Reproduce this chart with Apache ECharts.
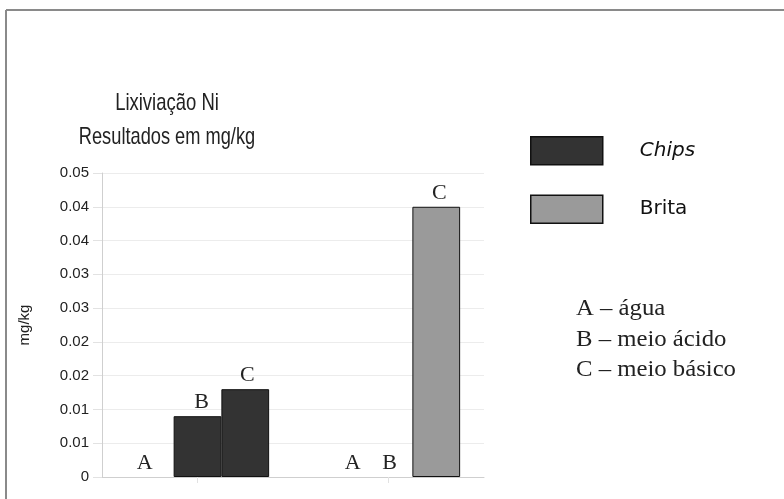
<!DOCTYPE html>
<html>
<head>
<meta charset="utf-8">
<script src="https://cdn.jsdelivr.net/npm/echarts@6/dist/echarts.min.js"></script>
<style>html,body{margin:0;padding:0;background:#fff;}#c{width:784px;height:499px;}</style>
</head>
<body>
<div id="c"></div>
<script>
// ---- data ----
var categories = ['Chips', 'Brita'];
var seriesNames = ['A', 'B', 'C'];
var valuesA = [0, 0];
var valuesB = [0.009, 0];
var valuesC = [0.013, 0.040];
var yTickLabels = ['0', '0.01', '0.01', '0.02', '0.02', '0.03', '0.03', '0.04', '0.04', '0.05'];
var legendNames = ['Chips', 'Brita'];
var notes = ['A – água', 'B – meio ácido', 'C – meio básico'];
var titleLines = ['Lixiviação Ni', 'Resultados em mg/kg'];
var yName = 'mg/kg';

var catColors = {'Chips': '#333333', 'Brita': '#9a9a9a'};
var labelOffsets = {'A': [[-5, 0], [12, 0]], 'B': [[4, 0], [1, 0]], 'C': [[2, 0], [3, 0]]};
var allValues = [valuesA, valuesB, valuesC];

var chart = echarts.init(document.getElementById('c'), null, {renderer: 'canvas'});

var barSeries = seriesNames.map(function (name, si) {
  return {
    name: name,
    type: 'bar',
    barGap: '0%',
    barCategoryGap: '25%',
    data: allValues[si].map(function (v, ci) {
      return {
        value: v,
        itemStyle: {color: catColors[categories[ci]], borderColor: '#111', borderWidth: v === 0 ? 0 : 1},
        label: {offset: labelOffsets[name][ci]}
      };
    }),
    label: {
      show: true,
      position: 'top',
      distance: 3,
      formatter: function () { return name; },
      fontFamily: 'Liberation Serif',
      fontSize: 22,
      color: '#222'
    },
    silent: true
  };
});

var legendSeries = legendNames.map(function (n) {
  return {name: n, type: 'line', data: [], itemStyle: {color: catColors[n]}, lineStyle: {color: catColors[n]}};
});

function txt(x, y, s, font, align, sx) {
  return {type: 'text', x: x, y: y, scaleX: sx, silent: true,
    style: {text: s, textAlign: align, textVerticalAlign: 'middle', font: font, fill: '#222'}};
}

var option = {
  animation: false,
  backgroundColor: '#fff',
  grid: {left: 102, right: 300, top: 173, bottom: 22},
  legend: {
    orient: 'vertical',
    left: 530,
    top: 136,
    padding: 0,
    itemWidth: 72,
    itemHeight: 28,
    itemGap: 29,
    selectedMode: false,
    data: legendNames.map(function (n, i) {
      return {
        name: n,
        icon: 'rect',
        itemStyle: {color: catColors[n], borderColor: '#111', borderWidth: 1.5},
        textStyle: {fontStyle: i === 0 ? 'italic' : 'normal'}
      };
    }),
    textStyle: {fontFamily: 'DejaVu Sans', fontSize: 20, color: '#111', padding: [0, 0, 0, 32]}
  },
  xAxis: {
    type: 'category',
    data: categories,
    axisLine: {lineStyle: {color: '#cfcfcf', width: 1}},
    axisTick: {show: true, alignWithLabel: true, length: 6, lineStyle: {color: '#e2e2e2'}},
    axisLabel: {show: false}
  },
  yAxis: {
    type: 'value',
    min: 0,
    max: 0.045,
    interval: 0.005,
    name: yName,
    nameLocation: 'middle',
    nameGap: 70,
    nameRotate: 90,
    nameTextStyle: {fontFamily: 'Liberation Sans', fontSize: 15, color: '#222'},
    axisLine: {show: true, lineStyle: {color: '#cfcfcf'}},
    axisTick: {show: true, length: 9, lineStyle: {color: '#e2e2e2'}},
    axisLabel: {
      fontFamily: 'Liberation Sans',
      fontSize: 15,
      color: '#222',
      margin: 13,
      formatter: function (v) { return yTickLabels[Math.round(v / 0.005)]; }
    },
    splitLine: {show: true, lineStyle: {color: '#ececec', width: 1}}
  },
  graphic: [
    {type: 'line', silent: true, shape: {x1: 6, y1: 10, x2: 784, y2: 10}, style: {stroke: '#8a8a8a', lineWidth: 2}},
    {type: 'line', silent: true, shape: {x1: 6, y1: 10, x2: 6, y2: 499}, style: {stroke: '#8a8a8a', lineWidth: 2}},
    txt(167, 103, titleLines[0], '24px "Liberation Sans"', 'center', 0.77),
    txt(167, 137, titleLines[1], '24px "Liberation Sans"', 'center', 0.76),
    txt(576, 309, notes[0], '24px "Liberation Serif"', 'left', 1.03),
    txt(576, 340, notes[1], '24px "Liberation Serif"', 'left', 1.03),
    txt(576, 370, notes[2], '24px "Liberation Serif"', 'left', 1.03)
  ],
  series: barSeries.concat(legendSeries)
};
chart.setOption(option);
</script>
</body>
</html>
